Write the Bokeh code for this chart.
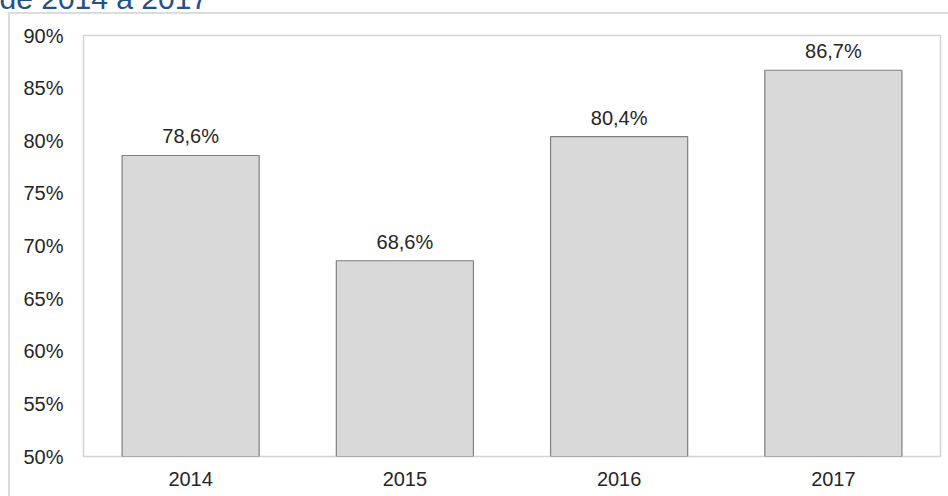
from bokeh.plotting import figure
from bokeh.models import ColumnDataSource, FactorRange, FixedTicker, PrintfTickFormatter, Label, Range1d
from bokeh.core.properties import value
from bokeh.embed import file_html
from bokeh.resources import INLINE

years = ["2014", "2015", "2016", "2017"]
values = [78.6, 68.6, 80.4, 86.7]
y_ticks = [50, 55, 60, 65, 70, 75, 80, 85, 90]
title_text = "de 2014 a 2017"

labels = [f"{v:.1f}%".replace(".", ",") for v in values]
src = ColumnDataSource(dict(year=years, val=values, lab=labels))

frame_css = ("linear-gradient(#dcdcdc,#dcdcdc) 8px 12px / 2px 100% no-repeat, "
             "linear-gradient(#dcdcdc,#dcdcdc) 8px 12px / 100% 2px no-repeat, white")

p = figure(x_range=FactorRange(*years), y_range=Range1d(50, 90),
           width=948, height=496, output_backend="svg", toolbar_location=None,
           min_border_left=83, min_border_right=8, min_border_top=35, min_border_bottom=40,
           styles={"background": frame_css})
p.background_fill_color = "white"
p.border_fill_color = None
p.outline_line_color = "#d4d4d4"
p.outline_line_width = 1.5
p.grid.visible = False

p.vbar(x="year", top="val", bottom=50, width=0.64, source=src,
       fill_color="#d9d9d9", line_color="#7f7f7f", line_width=1.2)
p.text(x="year", y="val", text="lab", source=src, text_align="center",
       text_baseline="bottom", y_offset=-8, text_font_size="20px",
       text_color="#262626", text_font=value("Liberation Sans"))

for ax in (p.xaxis[0], p.yaxis[0]):
    ax.axis_line_color = None
    ax.major_tick_line_color = None
    ax.minor_tick_line_color = None
    ax.major_tick_out = 0
    ax.major_tick_in = 0
    ax.major_label_text_font = "Liberation Sans"
    ax.major_label_text_font_size = "20px"
    ax.major_label_text_color = "#262626"
p.yaxis.ticker = FixedTicker(ticks=y_ticks)
p.yaxis.formatter = PrintfTickFormatter(format="%d%%")
p.yaxis.major_label_standoff = 20
p.xaxis.major_label_standoff = 15

title = Label(x=-1, y=-2, x_units="canvas", y_units="canvas", text=title_text,
              text_font="Liberation Sans", text_font_size="30px",
              text_color="#23508a", text_baseline="alphabetic")
p.add_layout(title, "above")

open("out.html", "w").write(file_html(p, INLINE))
